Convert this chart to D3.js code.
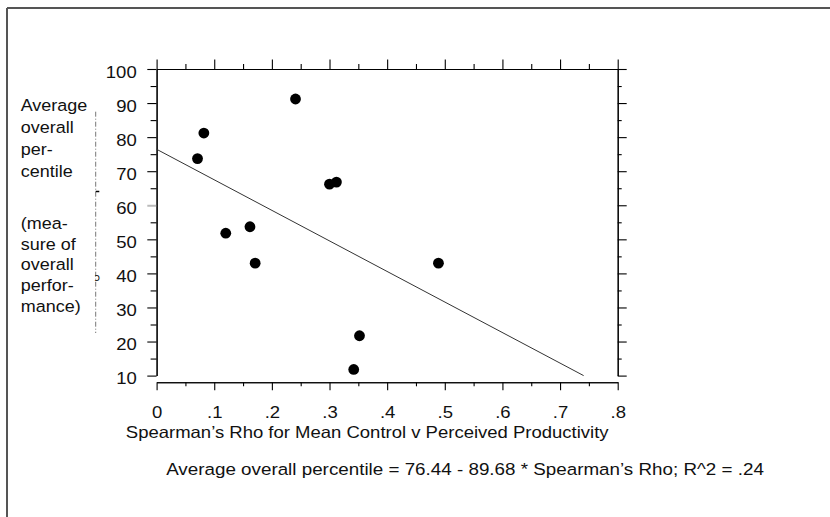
<!DOCTYPE html>
<html>
<head>
<meta charset="utf-8">
<script src="https://cdn.jsdelivr.net/npm/d3@7"></script>
<style>
  html, body { margin: 0; padding: 0; background: #fff; }
  svg { display: block; }
  text { font-family: "Liberation Sans", Arial, sans-serif; fill: #111; }
</style>
</head>
<body>
<svg id="chart" width="830" height="517"></svg>
<script>
// ---- data ----
const rhoValues = [0.071, 0.082, 0.120, 0.162, 0.171, 0.241, 0.300, 0.312, 0.342, 0.352, 0.489];
const percentileValues = [73.7, 81.2, 51.8, 53.7, 43.0, 91.2, 66.2, 66.8, 11.8, 21.7, 43.0];
const fitIntercept = 76.44;
const fitSlope = -89.68;
const fitXStart = 0;
const fitYEnd = 10;
const yTicks = [10, 20, 30, 40, 50, 60, 70, 80, 90, 100];
const yMinorTicks = [15, 25, 35, 45, 55, 65, 75, 85, 95];
const xTicks = [0, 0.1, 0.2, 0.3, 0.4, 0.5, 0.6, 0.7, 0.8];
const xTickLabels = ["0", ".1", ".2", ".3", ".4", ".5", ".6", ".7", ".8"];
const xMinorTicks = [0.05, 0.15, 0.25, 0.35, 0.45, 0.55, 0.65, 0.75];
const xTitle = "Spearman\u2019s Rho for Mean Control v Perceived Productivity";
const equationText = "Average overall percentile = 76.44 - 89.68 * Spearman\u2019s Rho; R^2 = .24";
const yTitleLines = ["Average", "overall", "per-", "centile", "", "(mea-", "sure of", "overall", "perfor-", "mance)"];

// ---- layout ----
const svg = d3.select("#chart");
const FS = 16.5;
const SX = 1.122; // horizontal stretch of the reference text

const x = d3.scaleLinear().domain([0, 0.8]).range([156.6, 617.7]);
const y = d3.scaleLinear().domain([10, 100]).range([375.6, 69]);
const xAxisY = 382.3;

// outer frame (top and left edges only)
svg.append("line").attr("x1", 7).attr("y1", 8).attr("x2", 830).attr("y2", 8)
  .attr("stroke", "#555").attr("stroke-width", 2);
svg.append("line").attr("x1", 7).attr("y1", 8).attr("x2", 7).attr("y2", 517)
  .attr("stroke", "#555").attr("stroke-width", 2);

function styleAxis(g) {
  g.selectAll("path.domain").attr("stroke", "#000").attr("stroke-width", 1.1);
  g.selectAll(".tick line").attr("stroke", "#000").attr("stroke-width", 1.1);
  g.selectAll("text").style("font-family", '"Liberation Sans", Arial, sans-serif')
    .style("font-size", FS + "px").attr("fill", "#111");
}

// left axis
const gLeft = svg.append("g").attr("transform", `translate(${x(0)},0)`)
  .call(d3.axisLeft(y).tickValues(yTicks).tickSize(9.3).tickSizeOuter(0).tickFormat(d3.format("d")));
styleAxis(gLeft);
gLeft.selectAll(".tick text").attr("x", 0).attr("dy", 0)
  .attr("transform", `translate(-19.9,8.1) scale(${SX},1)`);
gLeft.selectAll(".tick").filter(d => d === 60).select("line").attr("stroke", "#bbb").attr("stroke-width", 2);
const gLeftMinor = svg.append("g").attr("transform", `translate(${x(0)},0)`)
  .call(d3.axisLeft(y).tickValues(yMinorTicks).tickSize(6).tickSizeOuter(0).tickFormat(""));
styleAxis(gLeftMinor);

// right axis
const gRight = svg.append("g").attr("transform", `translate(${x(0.8)},0)`)
  .call(d3.axisRight(y).tickValues(yTicks).tickSize(9).tickSizeOuter(0).tickFormat(""));
styleAxis(gRight);
const gRightMinor = svg.append("g").attr("transform", `translate(${x(0.8)},0)`)
  .call(d3.axisRight(y).tickValues(yMinorTicks).tickSize(4).tickSizeOuter(0).tickFormat(""));
styleAxis(gRightMinor);

// top axis
const gTop = svg.append("g").attr("transform", `translate(0,${y(100)})`)
  .call(d3.axisTop(x).tickValues(xTicks).tickSize(9.5).tickSizeOuter(0).tickFormat(""));
styleAxis(gTop);
const gTopMinor = svg.append("g").attr("transform", `translate(0,${y(100)})`)
  .call(d3.axisTop(x).tickValues(xMinorTicks).tickSize(5).tickSizeOuter(0).tickFormat(""));
styleAxis(gTopMinor);

// bottom axis (offset below the plot)
const gBottom = svg.append("g").attr("transform", `translate(0,${xAxisY})`)
  .call(d3.axisBottom(x).tickValues(xTicks).tickSize(8).tickSizeOuter(0)
    .tickFormat((d, i) => xTickLabels[i]));
styleAxis(gBottom);
gBottom.selectAll(".tick text").attr("y", 0).attr("dy", 0)
  .attr("transform", `translate(0,35.2) scale(${SX},1)`);
const gBottomMinor = svg.append("g").attr("transform", `translate(0,${xAxisY})`)
  .call(d3.axisBottom(x).tickValues(xMinorTicks).tickSize(4).tickSizeOuter(0).tickFormat(""));
styleAxis(gBottomMinor);

// regression line
const fitXEnd = (fitYEnd - fitIntercept) / fitSlope;
svg.append("line")
  .attr("x1", x(fitXStart)).attr("y1", y(fitIntercept + fitSlope * fitXStart))
  .attr("x2", x(fitXEnd)).attr("y2", y(fitIntercept + fitSlope * fitXEnd))
  .attr("stroke", "#333").attr("stroke-width", 1);

// points
svg.append("g").selectAll("circle")
  .data(rhoValues.map((r, i) => ({ r, p: percentileValues[i] })))
  .join("circle")
  .attr("cx", d => x(d.r)).attr("cy", d => y(d.p)).attr("r", 5.4)
  .attr("fill", "#000");

// texts
function stretchedText(tx, ty, s, anchor, sx, size) {
  svg.append("text")
    .attr("transform", `translate(${tx},${ty}) scale(${sx},1)`)
    .attr("text-anchor", anchor)
    .style("font-size", (size || FS) + "px")
    .text(s);
}
stretchedText(367.2, 437.5, xTitle, "middle", SX);
stretchedText(465, 475.3, equationText, "middle", 1.14);

// left y title (multi-line)
yTitleLines.forEach((s, i) => {
  if (!s) return;
  const by = i < 4 ? 111.3 + 21.8 * i : 229 + 20.7 * (i - 5);
  stretchedText(20.7, by, s, "start", 1.09);
});

// dash-dot guide line next to the title
svg.append("line").attr("x1", 95.7).attr("y1", 111.7).attr("x2", 95.7).attr("y2", 333)
  .attr("stroke", "#777").attr("stroke-width", 1).attr("stroke-dasharray", "5,2,1,2");
svg.append("line").attr("x1", 95.7).attr("y1", 191.5).attr("x2", 99.3).attr("y2", 191.5)
  .attr("stroke", "#000").attr("stroke-width", 1.5);
svg.append("text").attr("x", 94.5).attr("y", 281).style("font-size", "10px")
  .style("font-family", '"DejaVu Sans", sans-serif').text("\u0254");
</script>
</body>
</html>
